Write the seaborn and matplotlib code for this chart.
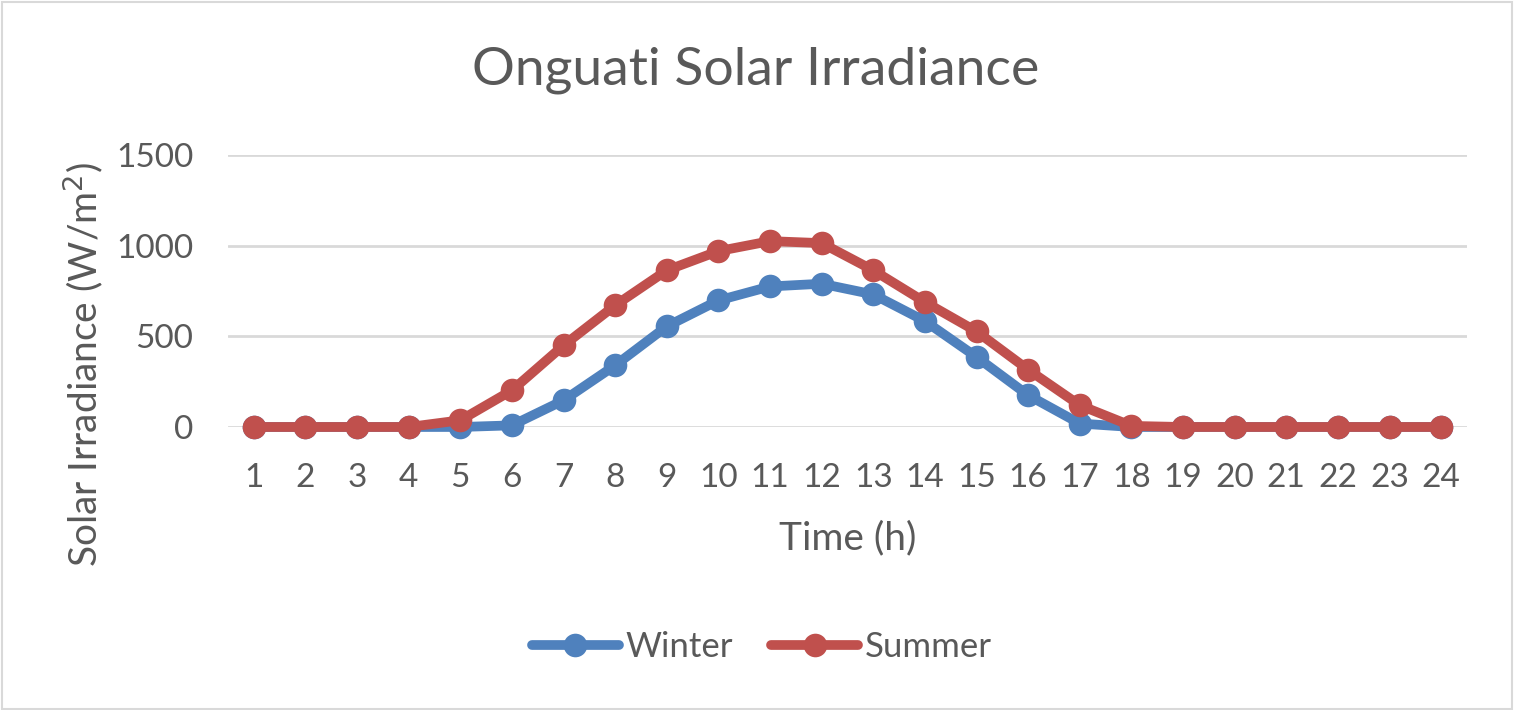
import matplotlib.pyplot as plt
import numpy as np
import pandas as pd
import seaborn as sns
from matplotlib.patches import Rectangle

hours = list(range(1, 25))
winter = [0, 0, 0, 0, 0, 9, 147, 340, 555, 698, 775, 790,
          731, 584, 386, 175, 19, 0, 0, 0, 0, 0, 0, 0]
summer = [0, 0, 0, 0, 37, 202, 450, 671, 864, 970, 1025, 1014,
          864, 689, 527, 316, 120, 6, 0, 0, 0, 0, 0, 0]
seasons = ["Winter", "Summer"]
colors = {"Winter": "#4F81BD", "Summer": "#C0504D"}

df = pd.concat([
    pd.DataFrame({"Time (h)": hours, "value": winter, "season": "Winter"}),
    pd.DataFrame({"Time (h)": hours, "value": summer, "season": "Summer"}),
])

sns.set_theme(style="white")
plt.rcParams["font.family"] = ["Lato", "DejaVu Sans"]
text_col = "#595959"

fig = plt.figure(figsize=(15.15, 7.1), dpi=100)
ax = fig.add_axes([0.1505, 0.3986, 0.8178, 0.3831])

sns.lineplot(data=df, x="Time (h)", y="value", hue="season", hue_order=seasons,
             palette=colors, marker="o", markersize=17, linewidth=7,
             markeredgewidth=0, ax=ax, zorder=3, legend=True)

ax.set_xlim(0.5, 24.5)
ax.set_ylim(0, 1500)
ax.set_xticks(hours)
ax.set_yticks([0, 500, 1000, 1500])
ax.yaxis.grid(True, color="#D9D9D9", linewidth=2)
ax.set_axisbelow(True)
for s in ax.spines.values():
    s.set_visible(False)
ax.tick_params(axis="both", length=0, labelsize=24, labelcolor=text_col)
ax.tick_params(axis="x", pad=26)
ax.tick_params(axis="y", pad=25)
for ln in ax.lines:
    ln.set_clip_on(False)

ax.set_xlabel("")
ax.set_ylabel("")
fig.text(0.5594, 0.242, "Time (h)", fontsize=28, color=text_col,
         ha="center", va="center")
fig.text(0.0548, 0.486, "Solar Irradiance (W/m$^2$)", fontsize=28, color=text_col,
         ha="center", va="center", rotation=90)
fig.text(0.499, 0.901, "Onguati Solar Irradiance", fontsize=38.5, color=text_col,
         ha="center", va="center")

handles, labels = ax.get_legend_handles_labels()
ax.legend_.remove()
leg = fig.legend(handles, labels, loc="center", bbox_to_anchor=(0.503, 0.089), ncol=2,
                 frameon=False, fontsize=25, handlelength=2.5, columnspacing=1.1,
                 handletextpad=0.2)
for t in leg.get_texts():
    t.set_color(text_col)

fig.patches.append(Rectangle((0.001, 0.002), 0.997, 0.995, transform=fig.transFigure,
                             fill=False, edgecolor="#D9D9D9", linewidth=1.5))

fig.savefig("out.png", dpi=100, facecolor="white")
